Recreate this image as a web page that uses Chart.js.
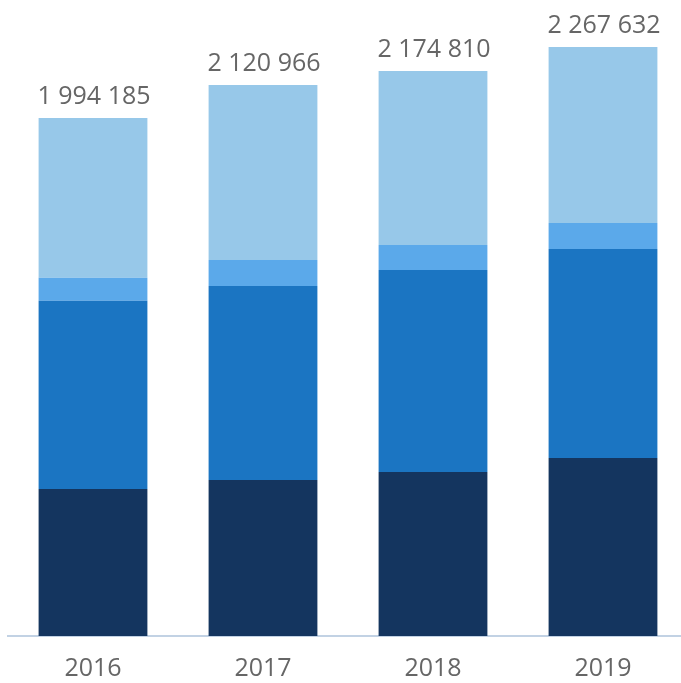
<!DOCTYPE html>
<html>
<head>
<meta charset="utf-8">
<script src="https://cdn.jsdelivr.net/npm/chart.js@4"></script>
<style>
    body { margin: 0; overflow: hidden; background: #fff; }
    canvas { display: block; }
</style>
</head>
<body>
<canvas id="yearsChart" width="688" height="683"></canvas>
<script>
const years = ['2016', '2017', '2018', '2019'];
const seriesBottom = [566000, 600600, 631000, 685000];
const seriesSecond = [724000, 747000, 778000, 805000];
const seriesThird = [88500, 100000, 96000, 100000];
const seriesTop = [615685, 673366, 669810, 677632];

const colors = ['#14355f', '#1b75c2', '#5ba9ea', '#97c8e9'];

function formatTotal(n) {
    return String(Math.round(n)).replace(/\B(?=(\d{3})+(?!\d))/g, ' ');
}

const totalsPlugin = {
    id: 'totals',
    afterDatasetsDraw(chart) {
        const ctx = chart.ctx;
        const xScale = chart.scales.x;
        const yScale = chart.scales.y;
        ctx.save();
        ctx.font = '25px "Open Sans"';
        ctx.fillStyle = '#666666';
        ctx.textAlign = 'center';
        ctx.textBaseline = 'alphabetic';
        years.forEach((year, i) => {
            const total = chart.data.datasets.reduce((sum, ds) => sum + ds.data[i], 0);
            const x = xScale.getPixelForValue(i) + 1;
            const y = yScale.getPixelForValue(total);
            ctx.fillText(formatTotal(total), x, y - 14);
        });
        ctx.restore();
    }
};

document.addEventListener('DOMContentLoaded', function() {
    const ctx = document.getElementById('yearsChart').getContext('2d');
    new Chart(ctx, {
        type: 'bar',
        data: {
            labels: years,
            datasets: [
                { data: seriesBottom, backgroundColor: colors[0] },
                { data: seriesSecond, backgroundColor: colors[1] },
                { data: seriesThird, backgroundColor: colors[2] },
                { data: seriesTop, backgroundColor: colors[3] }
            ]
        },
        options: {
            responsive: false,
            animation: false,
            devicePixelRatio: 1,
            layout: { padding: { left: 8, top: 6, right: 0, bottom: 0 } },
            datasets: {
                bar: { categoryPercentage: 1, barPercentage: 0.64, borderWidth: 0 }
            },
            plugins: {
                legend: { display: false },
                tooltip: { enabled: false }
            },
            scales: {
                x: {
                    stacked: true,
                    grid: { display: false, drawTicks: false },
                    border: { display: true, color: '#c2d2e4', width: 2 },
                    ticks: {
                        padding: 18,
                        color: '#666666',
                        font: { family: 'Open Sans', size: 25 }
                    },
                    afterFit: function(scale) { scale.height = 47; }
                },
                y: {
                    stacked: true,
                    display: false,
                    min: 0,
                    max: 2425000
                }
            }
        },
        plugins: [totalsPlugin]
    });
});
</script>
</body>
</html>
